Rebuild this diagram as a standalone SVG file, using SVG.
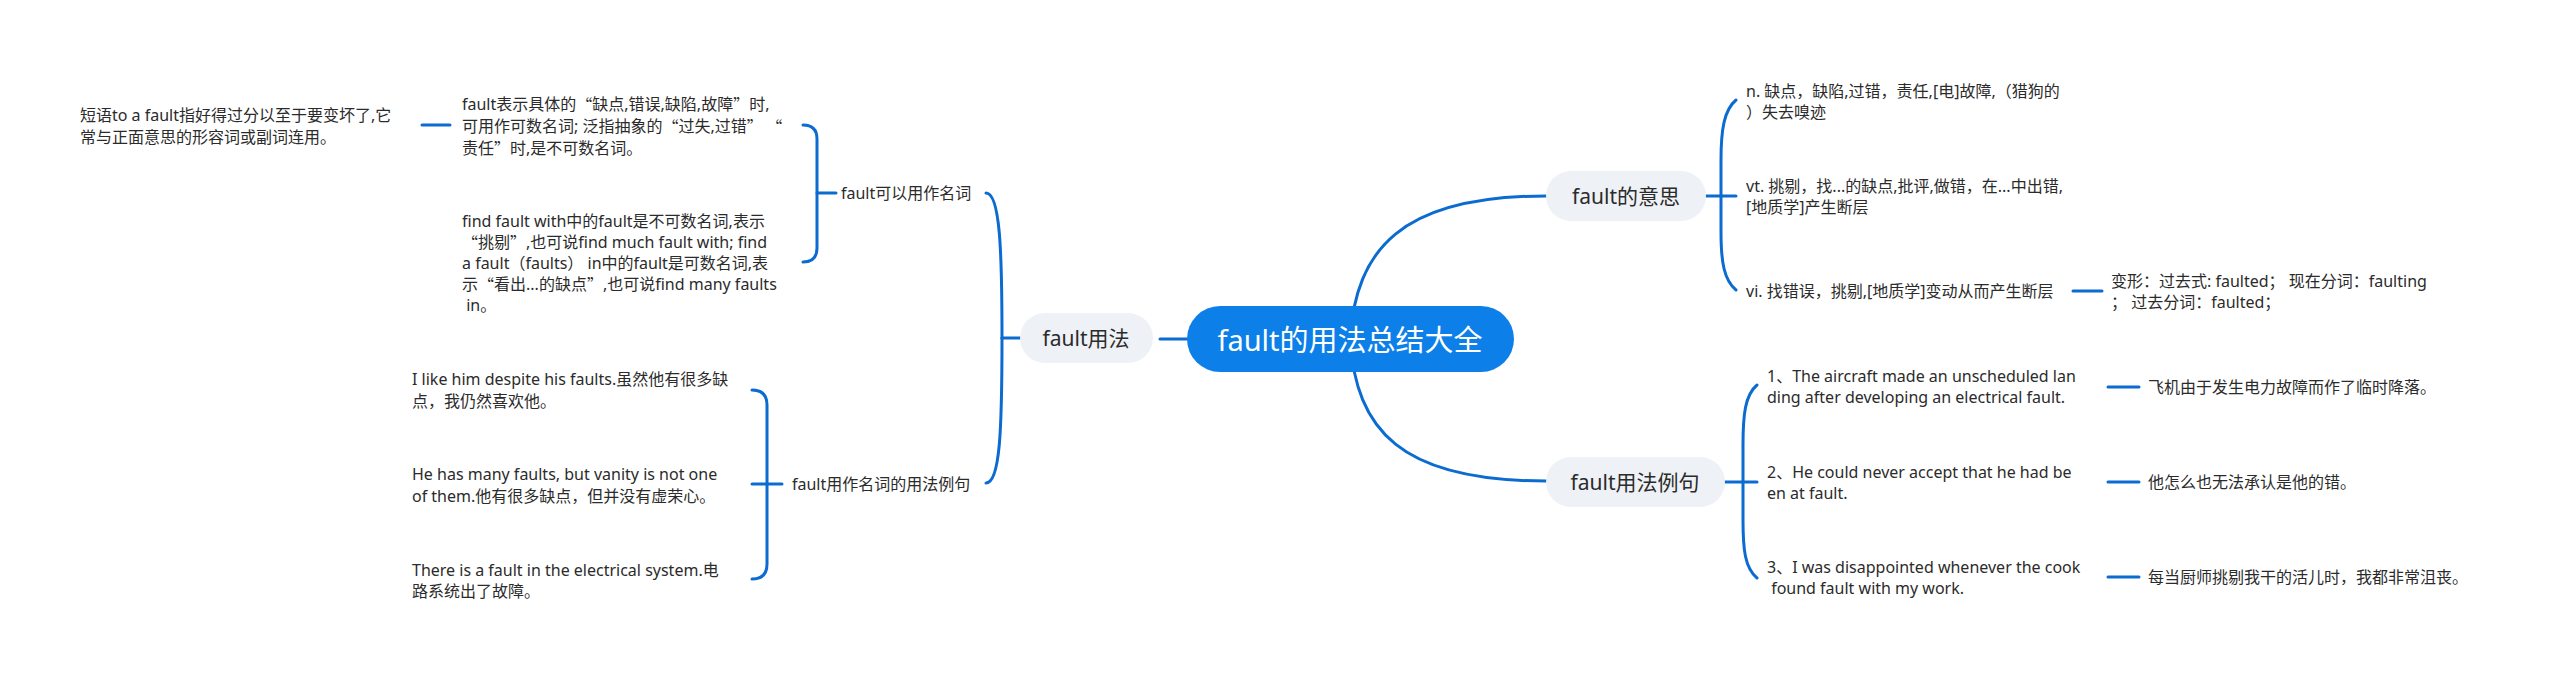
<svg xmlns="http://www.w3.org/2000/svg" width="2560" height="681" viewBox="0 0 2560 681">
<style>
.t{font-family:"Noto Sans","Noto Sans CJK SC",sans-serif;fill:#2b2b2b;dominant-baseline:central}
.q{font-family:"Noto Sans CJK SC",sans-serif}
.leaf{font-size:16px}
.br{font-size:21px;text-anchor:middle}
.root{font-size:29px;text-anchor:middle;fill:#ffffff}
.ln{fill:none;stroke:#0b6bd1;stroke-width:3;stroke-linecap:round}
.bn{fill:#eef1f5}
</style>
<rect width="2560" height="681" fill="#ffffff"/>
<g id="connectors">
<path class="ln" d="M1160,339 H1190"/>
<path class="ln" d="M1350,339 C1356,250 1400,196 1546,196"/>
<path class="ln" d="M1350,339 C1356,430 1400,481 1546,481"/>
<path class="ln" d="M1020,338 H1002"/>
<path class="ln" d="M1002,338 C1002,250 1000,193 986,193"/>
<path class="ln" d="M1002,338 C1002,430 1000,483 986,483"/>
<path class="ln" d="M803,125 Q817,125 817,139 V248 Q817,262 803,262"/>
<path class="ln" d="M817,193 H836"/>
<path class="ln" d="M422,125 H450"/>
<path class="ln" d="M752,390 Q767,390 767,405 V564 Q767,579 752,579"/>
<path class="ln" d="M752,484 H782"/>
<path class="ln" d="M1706,196 H1736"/>
<path class="ln" d="M1736,100 C1724,110 1721,130 1721,160 V232 C1721,262 1724,280 1736,290"/>
<path class="ln" d="M2073,291 H2102"/>
<path class="ln" d="M1725,482 H1757"/>
<path class="ln" d="M1757,385 C1745,395 1743,415 1743,445 V520 C1743,550 1745,568 1757,578"/>
<path class="ln" d="M2108,387 H2139"/>
<path class="ln" d="M2108,482 H2139"/>
<path class="ln" d="M2108,577 H2139"/>
</g>
<g id="root">
<rect x="1187" y="306" width="327" height="66" rx="33" fill="#0d7fe8"/>
<text class="t root" x="1350" y="339">fault的用法总结大全</text>
</g>
<g id="usage">
<rect class="bn" x="1020" y="313" width="133" height="50" rx="25"/>
<text class="t br" x="1086" y="338">fault用法</text>
</g>
<g id="noun">
<text class="t leaf" x="841" y="193">fault可以用作名词</text>
</g>
<g id="noun-1">
<text class="t leaf" x="462"><tspan x="462" y="104">fault表示具体的<tspan class="q">“</tspan>缺点,错误,缺陷,故障<tspan class="q">”</tspan>时,</tspan><tspan x="462" y="126">可用作可数名词; 泛指抽象的<tspan class="q">“</tspan>过失,过错<tspan class="q">” “</tspan></tspan><tspan x="462" y="148">责任<tspan class="q">”</tspan>时,是不可数名词。</tspan></text>
</g>
<g id="noun-1-1">
<text class="t leaf" x="80"><tspan x="80" y="115">短语to a fault指好得过分以至于要变坏了,它</tspan><tspan x="80" y="137">常与正面意思的形容词或副词连用。</tspan></text>
</g>
<g id="noun-2">
<text class="t leaf" x="462"><tspan x="462" y="221">find fault with中的fault是不可数名词,表示</tspan><tspan x="462" y="242"><tspan class="q">“</tspan>挑剔<tspan class="q">”</tspan>,也可说find much fault with; find</tspan><tspan x="462" y="263">a fault（faults） in中的fault是可数名词,表</tspan><tspan x="462" y="284">示<tspan class="q">“</tspan>看出...的缺点<tspan class="q">”</tspan>,也可说find many faults</tspan><tspan x="462" y="305"> in。</tspan></text>
</g>
<g id="noun-examples">
<text class="t leaf" x="792" y="484">fault用作名词的用法例句</text>
</g>
<g id="ex-1">
<text class="t leaf" x="412"><tspan x="412" y="379">I like him despite his faults.虽然他有很多缺</tspan><tspan x="412" y="401">点，我仍然喜欢他。</tspan></text>
</g>
<g id="ex-2">
<text class="t leaf" x="412"><tspan x="412" y="474">He has many faults, but vanity is not one</tspan><tspan x="412" y="496">of them.他有很多缺点，但并没有虚荣心。</tspan></text>
</g>
<g id="ex-3">
<text class="t leaf" x="412"><tspan x="412" y="570">There is a fault in the electrical system.电</tspan><tspan x="412" y="591">路系统出了故障。</tspan></text>
</g>
<g id="meaning">
<rect class="bn" x="1546" y="171" width="160" height="50" rx="25"/>
<text class="t br" x="1626" y="196">fault的意思</text>
</g>
<g id="meaning-n">
<text class="t leaf" x="1746"><tspan x="1746" y="91">n. 缺点，缺陷,过错，责任,[电]故障,（猎狗的</tspan><tspan x="1746" y="112">）失去嗅迹</tspan></text>
</g>
<g id="meaning-vt">
<text class="t leaf" x="1746"><tspan x="1746" y="186">vt. 挑剔，找...的缺点,批评,做错，在...中出错,</tspan><tspan x="1746" y="207">[地质学]产生断层</tspan></text>
</g>
<g id="meaning-vi">
<text class="t leaf" x="1746" y="291">vi. 找错误，挑剔,[地质学]变动从而产生断层</text>
</g>
<g id="forms">
<text class="t leaf" x="2111"><tspan x="2111" y="281">变形：过去式: faulted； 现在分词：faulting</tspan><tspan x="2111" y="302">； 过去分词：faulted；</tspan></text>
</g>
<g id="sentences">
<rect class="bn" x="1546" y="457" width="179" height="50" rx="25"/>
<text class="t br" x="1635" y="482">fault用法例句</text>
</g>
<g id="s-1">
<text class="t leaf" x="1767"><tspan x="1767" y="376">1、The aircraft made an unscheduled lan</tspan><tspan x="1767" y="397">ding after developing an electrical fault.</tspan></text>
</g>
<g id="s-1-zh">
<text class="t leaf" x="2148" y="387">飞机由于发生电力故障而作了临时降落。</text>
</g>
<g id="s-2">
<text class="t leaf" x="1767"><tspan x="1767" y="472">2、He could never accept that he had be</tspan><tspan x="1767" y="493">en at fault.</tspan></text>
</g>
<g id="s-2-zh">
<text class="t leaf" x="2148" y="482">他怎么也无法承认是他的错。</text>
</g>
<g id="s-3">
<text class="t leaf" x="1767"><tspan x="1767" y="567">3、I was disappointed whenever the cook</tspan><tspan x="1767" y="588"> found fault with my work.</tspan></text>
</g>
<g id="s-3-zh">
<text class="t leaf" x="2148" y="577">每当厨师挑剔我干的活儿时，我都非常沮丧。</text>
</g>
</svg>
